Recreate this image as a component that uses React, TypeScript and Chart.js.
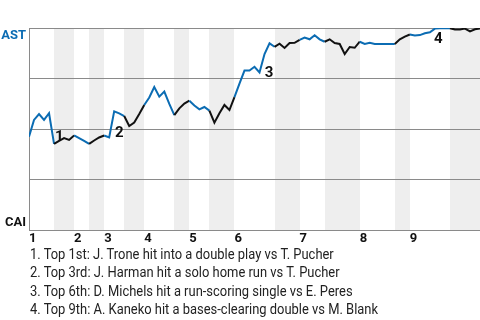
import { useEffect, useRef } from "react";
import { Chart, registerables } from "chart.js";

Chart.register(...registerables);

// ---- data ----
const innings = ["1", "2", "3", "4", "5", "6", "7", "8", "9"];
// play index at which each half inning starts (top 1, bottom 1, top 2, ...), last = end
const halfInningStarts = [0, 5, 9, 12, 15, 19, 23, 29, 32, 36, 41, 49, 54, 59, 66, 73, 76, 84, 90];
// AST win probability (%) after each play
const winProb = [
  46.2, 54.5, 57.4, 54.5, 57.8, 42.6, 44.1, 45.5, 44.6, 46.8,
  45.5, 44.1, 42.6, 44.3, 45.8, 46.8, 45.8, 58.7, 57.7, 56.4,
  51.5, 53.2, 57.4, 61.9, 65.6, 70.8, 66.0, 68.5, 62.4, 56.9,
  60.2, 62.6, 64.0, 61.6, 59.7, 60.9, 59.1, 53.1, 57.8, 61.9,
  59.4, 65.8, 72.5, 78.9, 78.9, 80.8, 78.0, 87.1, 92.4, 90.7,
  92.2, 90.1, 92.6, 92.7, 94.1, 95.3, 94.4, 96.4, 94.4, 93.2,
  94.4, 92.6, 92.1, 87.1, 90.6, 90.2, 93.2, 92.1, 92.7, 92.1,
  92.1, 92.1, 92.1, 92.1, 94.4, 95.7, 96.8, 96.3, 96.5, 97.4,
  97.9, 99.7, 99.9, 99.9, 99.9, 99.3, 99.3, 99.7, 98.3, 99.4,
  99.8,
];
const eventIndex = [5, 17, 47, 81];
const eventLabels = ["1", "2", "3", "4"];
const notes = [
  "1. Top 1st: J. Trone hit into a double play vs T. Pucher",
  "2. Top 3rd: J. Harman hit a solo home run vs T. Pucher",
  "3. Top 6th: D. Michels hit a run-scoring single vs E. Peres",
  "4. Top 9th: A. Kaneko hit a bases-clearing double vs M. Blank",
];

// ---- styles ----
const BLUE = "#0b6cb3";
const BLACK = "#111111";
const GRID = "#8a8a8a";
const BAND = "#eeeeee";
// baseline offsets of event labels from their anchor point (px)
const eventOffsets = [
  [1.0, -3.3],
  [0.8, 25.3],
  [0.2, 22.7],
  [-0.8, 14],
];

const inningStartIdx = halfInningStarts.filter((_, i) => i % 2 === 0 && i < halfInningStarts.length - 1);

function isBottomHalf(i: number) {
  for (let h = 0; h < halfInningStarts.length - 1; h++) {
    if (i >= halfInningStarts[h] && i < halfInningStarts[h + 1]) return h % 2 === 1;
  }
  return true;
}

const bandsPlugin = {
  id: "bands",
  beforeDraw(chart: any) {
    const { ctx, chartArea, scales } = chart;
    ctx.save();
    ctx.fillStyle = BAND;
    for (let h = 1; h < halfInningStarts.length - 1; h += 2) {
      const x0 = Math.round(scales.x.getPixelForValue(halfInningStarts[h]));
      const x1 = Math.round(scales.x.getPixelForValue(halfInningStarts[h + 1]));
      ctx.fillRect(x0, chartArea.top, x1 - x0, chartArea.bottom - chartArea.top);
    }
    ctx.restore();
  },
};

const eventsPlugin = {
  id: "events",
  afterDatasetsDraw(chart: any) {
    const { ctx, scales } = chart;
    ctx.save();
    ctx.fillStyle = BLACK;
    ctx.font = "bold 15px Roboto";
    ctx.textAlign = "left";
    ctx.textBaseline = "alphabetic";
    eventIndex.forEach((idx, k) => {
      const x = scales.x.getPixelForValue(idx) + eventOffsets[k][0];
      const y = scales.y.getPixelForValue(winProb[idx]) + eventOffsets[k][1];
      ctx.fillText(eventLabels[k], x, y);
    });
    ctx.restore();
  },
};

export default function App() {
  const ref = useRef<HTMLCanvasElement>(null);
  useEffect(() => {
    document.body.style.margin = "0";
    const chart = new Chart(ref.current!, {
      type: "line",
      data: {
        datasets: [
          {
            data: winProb.map((v, i) => ({ x: i, y: v })),
            borderColor: BLUE,
            borderWidth: 2,
            pointRadius: 0,
            tension: 0,
            segment: {
              borderColor: (c: any) => (isBottomHalf(c.p0DataIndex) ? BLACK : BLUE),
            },
          },
        ],
      },
      options: {
        responsive: false,
        animation: false,
        layout: { padding: { top: 28, left: 0, right: 0, bottom: 0 } },
        plugins: { legend: { display: false }, tooltip: { enabled: false } },
        scales: {
          x: {
            type: "linear",
            min: 0,
            max: 90,
            grid: { display: false, drawTicks: false },
            border: { display: true, color: GRID },
            afterBuildTicks: (s: any) => {
              s.ticks = inningStartIdx.map((v) => ({ value: v }));
            },
            afterFit: (s: any) => {
              s.height = 20;
            },
            ticks: {
              autoSkip: false,
              maxRotation: 0,
              align: "start",
              padding: 1,
              color: BLACK,
              font: { family: "Roboto", weight: "bold", size: 13 },
              callback: (_v: any, i: number) => innings[i],
            },
          },
          y: {
            min: 0,
            max: 100,
            grid: { color: GRID, drawTicks: false, lineWidth: 1 },
            border: { display: true, color: GRID },
            afterFit: (s: any) => {
              s.width = 29;
            },
            ticks: {
              stepSize: 25,
              padding: 3,
              autoSkip: false,
              color: (c: any) => (c.tick && c.tick.value === 100 ? BLUE : BLACK),
              font: { family: "Roboto", weight: "bold", size: 13, lineHeight: 1.15 },
              callback: (v: any) => (v === 100 ? ["", "AST"] : v === 0 ? ["CAI", ""] : ""),
            },
          },
        },
      },
      plugins: [bandsPlugin, eventsPlugin],
    } as any);
    return () => chart.destroy();
  }, []);

  return (
    <div style={{ position: "relative", width: 480, height: 320, background: "#fff", overflow: "hidden" }}>
      <canvas ref={ref} width={480} height={250} style={{ position: "absolute", left: 0, top: 0 }} />
      <div
        style={{
          position: "absolute",
          left: 30,
          top: 245,
          fontFamily: "Roboto",
          fontSize: 15,
          lineHeight: "18.33px",
          color: "#222",
          whiteSpace: "nowrap",
          transform: "scaleX(0.862)",
          transformOrigin: "left top",
        }}
      >
        {notes.map((n) => (
          <div key={n}>{n}</div>
        ))}
      </div>
    </div>
  );
}
